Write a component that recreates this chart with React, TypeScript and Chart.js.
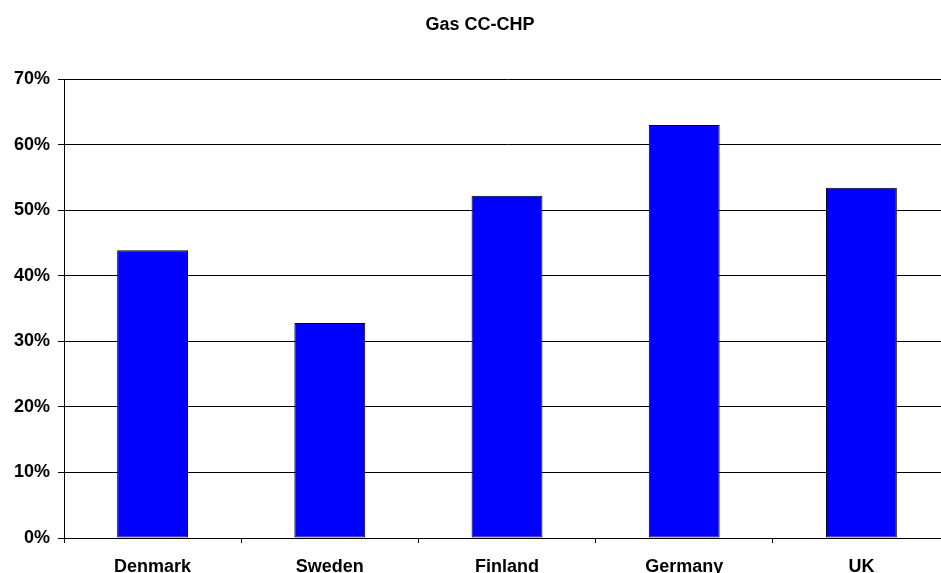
import React, { useEffect, useRef } from "react";
import { Chart, registerables } from "chart.js";

Chart.register(...registerables);

const categories = ["Denmark", "Sweden", "Finland", "Germany", "UK"];
const values = [43.9, 32.8, 52.2, 63.0, 53.4];
const chartTitle = "Gas CC-CHP";
const yMin = 0;
const yMax = 70;
const yStep = 10;

const FONT = "'Liberation Sans', Arial, sans-serif";

export default function App() {
  const ref = useRef<HTMLCanvasElement | null>(null);

  useEffect(() => {
    if (!ref.current) return;
    const titlePlugin = {
      id: "customTitle",
      afterDraw(chart: any) {
        const ctx = chart.ctx;
        ctx.save();
        ctx.fillStyle = "#000";
        ctx.font = `bold 18px ${FONT}`;
        ctx.textAlign = "center";
        ctx.textBaseline = "middle";
        ctx.fillText(chartTitle, 480, 25);
        ctx.restore();
      },
    };
    const chart = new Chart(ref.current, {
      type: "bar",
      data: {
        labels: categories,
        datasets: [
          {
            data: values,
            backgroundColor: "#0000FF",
            borderColor: "#000000",
            borderWidth: 1,
            borderSkipped: false,
            barPercentage: 0.4,
            categoryPercentage: 1,
          },
        ],
      },
      options: {
        responsive: false,
        animation: false,
        layout: { padding: { top: 79, left: 0, right: 1, bottom: 0 } },
        plugins: {
          legend: { display: false },
          title: { display: false },
          tooltip: { enabled: false },
        },
        scales: {
          x: {
            grid: {
              drawOnChartArea: false,
              drawTicks: true,
              tickLength: 5,
              color: "#000",
              offset: true,
            },
            border: { color: "#000", width: 1 },
            ticks: {
              color: "#000",
              font: { family: FONT, size: 18, weight: "bold" },
              padding: 13,
              maxRotation: 0,
            },
            afterFit(scale: any) {
              scale.height = 35;
            },
          },
          y: {
            min: yMin,
            max: yMax,
            grid: {
              color: "#000",
              tickLength: 6,
              drawTicks: true,
            },
            border: { color: "#000", width: 1 },
            ticks: {
              stepSize: yStep,
              color: "#000",
              padding: 8,
              font: { family: FONT, size: 18, weight: "bold" },
              callback: (v: any) => `${v}%`,
            },
            afterFit(scale: any) {
              scale.width = 64;
            },
          },
        },
      },
      plugins: [titlePlugin],
    });
    return () => chart.destroy();
  }, []);

  return (
    <div
      style={{
        position: "fixed",
        left: 0,
        top: 0,
        width: 941,
        height: 573,
        overflow: "hidden",
        background: "#fff",
      }}
    >
      <canvas ref={ref} width={951} height={573} style={{ display: "block" }} />
    </div>
  );
}
